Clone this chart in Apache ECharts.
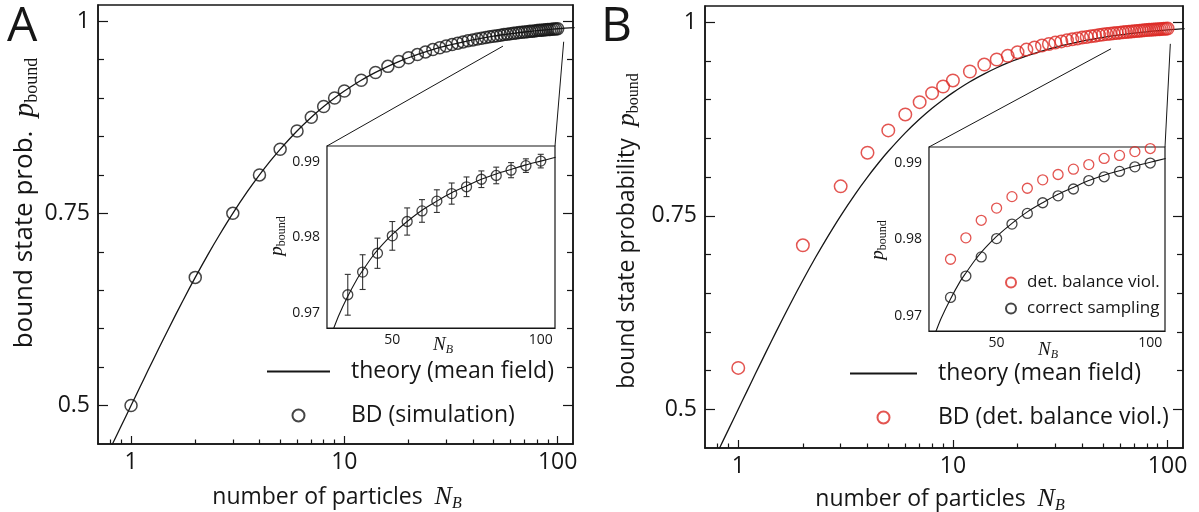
<!DOCTYPE html>
<html>
<head>
<meta charset="utf-8">
<script src="https://cdn.jsdelivr.net/npm/echarts@6/dist/echarts.min.js"></script>
<style>
html,body{margin:0;padding:0;background:#fff;}
#chart{width:1199px;height:512px;}
</style>
</head>
<body>
<div id="chart"></div>
<script>
// ---------------- data ----------------
const theoryN = [0.8,0.85,0.9,1,1.1,1.2,1.35,1.5,1.75,2,2.3,2.6,3,3.5,4,4.5,5,6,7,8,9,10,12,14,16,18,20,25,30,35,40,50,60,70,80,90,100,120];
const theoryP = [0.4444,0.4595,0.4737,0.5,0.5238,0.5455,0.5745,0.6,0.6364,0.6667,0.697,0.7222,0.75,0.7778,0.8,0.8182,0.8333,0.8571,0.875,0.8889,0.9,0.9091,0.9231,0.9333,0.9412,0.9474,0.9524,0.9615,0.9677,0.9722,0.9756,0.9804,0.9836,0.9859,0.9877,0.989,0.9901,0.9917];

const simN = [1,2,3,4,5,6,7,8,9,10,12,14,16,18,20,22,24,26,28,30,32,34,36,38,40,42,44,46,48,50,52,54,56,58,60,62,64,66,68,70,72,74,76,78,80,82,84,86,88,90,92,94,96,98,100];
const simA = [0.5,0.6667,0.75,0.8,0.8333,0.8571,0.875,0.8889,0.9,0.9091,0.9231,0.9333,0.9412,0.9474,0.9524,0.9565,0.96,0.963,0.9655,0.9677,0.9697,0.9714,0.973,0.9744,0.9756,0.9767,0.9778,0.9787,0.9796,0.9804,0.9811,0.9818,0.9825,0.9831,0.9836,0.9841,0.9846,0.9851,0.9855,0.9859,0.9863,0.9867,0.987,0.9873,0.9877,0.988,0.9882,0.9885,0.9888,0.989,0.9892,0.9895,0.9897,0.9899,0.9901];
const simBviol = [0.5535,0.7119,0.788,0.8315,0.8603,0.8809,0.8968,0.9084,0.917,0.9248,0.9364,0.9454,0.9519,0.9566,0.9613,0.9647,0.9675,0.9699,0.9719,0.9737,0.9753,0.9767,0.978,0.9791,0.9802,0.981,0.9819,0.9826,0.9834,0.9841,0.9847,0.9852,0.9857,0.9862,0.9866,0.9871,0.9875,0.9878,0.9881,0.9885,0.9888,0.9891,0.9893,0.9896,0.9899,0.9902,0.9903,0.9906,0.9908,0.991,0.9911,0.9914,0.9915,0.9917,0.9919];

const insetTheoryN = [29,30,32,35,38,40,43,45,48,50,55,60,65,70,75,80,85,90,95,100,105];
const insetTheoryP = [0.9667,0.9677,0.9697,0.9722,0.9744,0.9756,0.9773,0.9783,0.9796,0.9804,0.9821,0.9836,0.9848,0.9859,0.9868,0.9877,0.9884,0.989,0.9896,0.9901,0.9906];

const insetN = [35,40,45,50,55,60,65,70,75,80,85,90,95,100];
const insetA = [0.9724,0.9754,0.9779,0.9802,0.9821,0.9835,0.9848,0.9858,0.9867,0.9877,0.9882,0.9889,0.9895,0.9901];
const insetAerr = [0.0027,0.0023,0.002,0.0019,0.0018,0.0015,0.0015,0.0014,0.0013,0.0011,0.0011,0.001,0.0009,0.0009];
const insetBviol = [0.9774,0.9802,0.9825,0.9841,0.9856,0.9867,0.9878,0.9885,0.9892,0.9898,0.9906,0.991,0.9915,0.9919];
const insetBcorrect = [0.9724,0.9752,0.9777,0.9801,0.982,0.9834,0.9848,0.9857,0.9866,0.9877,0.9882,0.9889,0.9895,0.99];

// tick labels / tick positions
const xMajor = [1,10,100];
const xMinor = [0.8,0.9,2,3,4,5,6,7,8,9,20,30,40,50,60,70,80,90];
const yMajor = [0.5,0.75,1];
const yMinor = [0.55,0.6,0.65,0.7,0.8,0.85,0.9,0.95];
const insetXLabels = [50,100];
const insetXTicks = [30,40,50,60,70,80,90,100];
const insetYLabels = [0.97,0.98,0.99];
const insetYTicks = [0.97,0.975,0.98,0.985,0.99];

// zoom-indicator endpoints in main-panel data coordinates
const zoomLinkA = [[55.4,0.9675],[106.7,0.9732]];
const zoomLinkB = [[54.5,0.9657],[103,0.9721]];

// ---------------- chart ----------------
const FONT = "'Open Sans','DejaVu Sans',sans-serif";
const SERIF = "'Liberation Serif','DejaVu Serif',serif";
const INK = '#161616';
const RED = '#dc2a26';
const X_RANGE = [0.7,118];
const Y_RANGE = [0.45,1.021];
const IX_RANGE = [28,104.8];
const IY_RANGE = [0.968,0.9921];

const zip = (a,b) => a.map((v,i)=>[v,b[i]]);

function logX(grid, major){
  return {
    gridIndex:grid, type:'log', logBase:10, min:X_RANGE[0], max:X_RANGE[1], position:'bottom',
    axisLine:{show:major, onZero:false, lineStyle:{color:INK,width:1.5}},
    axisTick:{show:true, inside:true, length: major?8:4.5, customValues: major?xMajor:xMinor, lineStyle:{color:INK,width:1.2}},
    axisLabel:{show:major, customValues:xMajor, fontSize:23, fontFamily:FONT, color:INK, margin:7},
    splitLine:{show:false}, minorTick:{show:false}, minorSplitLine:{show:false}
  };
}
function mainY(grid, side, major){
  return {
    gridIndex:grid, type:'value', min:Y_RANGE[0], max:Y_RANGE[1], position:side,
    axisLine:{show:major, onZero:false, lineStyle:{color:INK,width:1.5}},
    axisTick:{show:true, inside:true, length: major?10:6, customValues: major?yMajor:yMinor, lineStyle:{color:INK,width:1.2}},
    axisLabel:{show: major && side==='left', customValues:yMajor, fontSize:23, fontFamily:FONT, color:INK, margin:8},
    splitLine:{show:false}
  };
}
function insetX(grid){
  return {
    gridIndex:grid, type:'value', min:IX_RANGE[0], max:IX_RANGE[1], position:'bottom',
    axisLine:{show:true, onZero:false, lineStyle:{color:INK,width:1.2}},
    axisTick:{show:true, inside:true, length:5, customValues:insetXTicks, lineStyle:{color:INK,width:1}},
    axisLabel:{show:true, customValues:insetXLabels, fontSize:14, fontFamily:FONT, color:INK, margin:5},
    splitLine:{show:false}
  };
}
function insetY(grid){
  return {
    gridIndex:grid, type:'value', min:IY_RANGE[0], max:IY_RANGE[1], position:'left',
    axisLine:{show:true, onZero:false, lineStyle:{color:INK,width:1.2}},
    axisTick:{show:true, inside:true, length:5, customValues:insetYTicks, lineStyle:{color:INK,width:1}},
    axisLabel:{show:true, customValues:insetYLabels, fontSize:14, fontFamily:FONT, color:INK, margin:7},
    splitLine:{show:false}
  };
}

const richMath = (big, small) => ({
  t:{fontFamily:FONT, fontSize:big, color:INK, lineHeight:big+6},
  m:{fontFamily:SERIF, fontStyle:'italic', fontSize:big+3, color:INK, lineHeight:big+6},
  s:{fontFamily:SERIF, fontSize:small, color:INK, verticalAlign:'bottom', lineHeight:small+2},
  si:{fontFamily:SERIF, fontStyle:'italic', fontSize:small, color:INK, verticalAlign:'bottom', lineHeight:small+2}
});

function textEl(id, x, y, text, rich, rot){
  return {type:'text', id:id, x:x, y:y, rotation: rot||0, z:100,
    style:{text:text, rich:rich, align:'center', verticalAlign:'middle', fill:INK}};
}

const lineStyle = {color:INK, width:1.3};
const hollow = (c,w) => ({color:'rgba(0,0,0,0)', borderColor:c, borderWidth:w||1.3});
const noDot = {color:'rgba(0,0,0,0)', borderColor:'rgba(0,0,0,0)'};

const option = {
  animation:false,
  backgroundColor:'#fff',
  grid:[
    {left:98, top:5, width:475, height:439, show:true, borderColor:INK, borderWidth:1.5, backgroundColor:'transparent'},
    {left:705, top:6, width:478, height:442, show:true, borderColor:INK, borderWidth:1.5, backgroundColor:'transparent'},
    {left:327, top:146, width:228, height:182, show:true, borderColor:INK, borderWidth:1.2, backgroundColor:'#fff', z:5},
    {left:929, top:147, width:236, height:184, show:true, borderColor:INK, borderWidth:1.2, backgroundColor:'#fff', z:5}
  ],
  xAxis:[ logX(0,true), logX(0,false), logX(1,true), logX(1,false), insetX(2), insetX(3) ],
  yAxis:[
    mainY(0,'left',true), mainY(0,'left',false), mainY(0,'right',true), mainY(0,'right',false),
    mainY(1,'left',true), mainY(1,'left',false), mainY(1,'right',true), mainY(1,'right',false),
    insetY(2), insetY(3)
  ],
  legend:[
    {data:['theory (mean field)','BD (simulation)'], left:261, top:355, orient:'vertical', z:20,
     itemWidth:63, itemHeight:12, itemGap:21, selectedMode:false,
     textStyle:{fontSize:23, fontFamily:FONT, color:INK, padding:[0,0,0,16]}},
    {data:['theory (mean field)','BD (det. balance viol.)'], left:844, top:357, orient:'vertical', z:20,
     itemWidth:67, itemHeight:12, itemGap:21, selectedMode:false,
     textStyle:{fontSize:23, fontFamily:FONT, color:INK, padding:[0,0,0,16]}},
    {data:['det. balance viol.','correct sampling'], left:1000, top:269, orient:'vertical', z:20,
     itemWidth:10, itemHeight:10, itemGap:9, selectedMode:false,
     textStyle:{fontSize:17, fontFamily:FONT, color:INK, padding:[0,0,0,6]}}
  ],
  series:[
    {name:'theory (mean field)', type:'line', xAxisIndex:0, yAxisIndex:0, data:zip(theoryN,theoryP),
     symbol:'none', smooth:0.3, lineStyle:lineStyle, itemStyle:noDot, z:2},
    {name:'BD (simulation)', type:'scatter', xAxisIndex:0, yAxisIndex:0, data:zip(simN,simA),
     symbol:'circle', symbolSize:12, itemStyle:hollow(INK,1.5), z:3},
    {name:'theory (mean field)', type:'line', xAxisIndex:2, yAxisIndex:4, data:zip(theoryN,theoryP),
     symbol:'none', smooth:0.3, lineStyle:lineStyle, itemStyle:noDot, z:2},
    {name:'BD (det. balance viol.)', type:'scatter', xAxisIndex:2, yAxisIndex:4, data:zip(simN,simBviol),
     symbol:'circle', symbolSize:12.5, itemStyle:hollow(RED,1.5), z:3},
    // inset A
    {name:'insetTheoryA', type:'line', xAxisIndex:4, yAxisIndex:8, data:zip(insetTheoryN,insetTheoryP),
     symbol:'none', smooth:0.3, lineStyle:{color:INK,width:1.1}, z:6},
    {name:'insetErrA', type:'custom', xAxisIndex:4, yAxisIndex:8,
     data: insetN.map((n,i)=>[n, insetA[i]-insetAerr[i], insetA[i]+insetAerr[i]]),
     encode:{x:0, y:[1,2]}, z:6,
     renderItem:function(params, api){
       const x = api.value(0);
       const lo = api.coord([x, api.value(1)]);
       const hi = api.coord([x, api.value(2)]);
       const c = 3;
       const st = {stroke:'#333', lineWidth:1.1};
       return {type:'group', children:[
         {type:'line', shape:{x1:lo[0],y1:lo[1],x2:hi[0],y2:hi[1]}, style:st},
         {type:'line', shape:{x1:lo[0]-c,y1:lo[1],x2:lo[0]+c,y2:lo[1]}, style:st},
         {type:'line', shape:{x1:hi[0]-c,y1:hi[1],x2:hi[0]+c,y2:hi[1]}, style:st}
       ]};
     }},
    {name:'insetSimA', type:'scatter', xAxisIndex:4, yAxisIndex:8, data:zip(insetN,insetA),
     symbol:'circle', symbolSize:10, itemStyle:hollow(INK), z:7},
    // inset B
    {name:'insetTheoryB', type:'line', xAxisIndex:5, yAxisIndex:9, data:zip(insetTheoryN,insetTheoryP),
     symbol:'none', smooth:0.3, lineStyle:{color:INK,width:1.1}, z:6},
    {name:'det. balance viol.', type:'scatter', xAxisIndex:5, yAxisIndex:9, data:zip(insetN,insetBviol),
     symbol:'circle', symbolSize:10, itemStyle:hollow(RED), z:7},
    {name:'correct sampling', type:'scatter', xAxisIndex:5, yAxisIndex:9, data:zip(insetN,insetBcorrect),
     symbol:'circle', symbolSize:10, itemStyle:hollow(INK), z:7}
  ],
  graphic:{elements:[
    {type:'text', id:'lblA', x:7, y:27, z:100, style:{text:'A', font:"48px "+FONT, fill:INK, align:'left', verticalAlign:'middle'}},
    {type:'text', id:'lblB', x:601, y:27, z:100, style:{text:'B', font:"48px "+FONT, fill:INK, align:'left', verticalAlign:'middle'}},
    textEl('xtA', 337, 497, '{t|number of particles  }{m|N}{si|B}', richMath(23,16)),
    textEl('xtB', 940, 499, '{t|number of particles  }{m|N}{si|B}', richMath(23,16)),
    textEl('ytA', 25, 203, '{t|bound state prob.  }{m|p}{s|bound}', richMath(26,18), Math.PI/2),
    textEl('ytB', 627, 231, '{t|bound state probability  }{m|p}{s|bound}', richMath(23,16), Math.PI/2),
    textEl('ixA', 443, 345, '{m|N}{si|B}', richMath(16,12)),
    textEl('ixB', 1048, 350, '{m|N}{si|B}', richMath(16,12)),
    textEl('iyA', 277, 236, '{m|p}{s|bound}', richMath(16,12), Math.PI/2),
    textEl('iyB', 878, 240, '{m|p}{s|bound}', richMath(16,12), Math.PI/2)
  ]}
};

const chart = echarts.init(document.getElementById('chart'), null, {renderer:'canvas'});
chart.setOption(option);

// zoom indicator lines: from marked region in main panel to inset top corners
function links(mainFinder, insetFinder, pts, prefix){
  const tl = chart.convertToPixel(insetFinder, [IX_RANGE[0], IY_RANGE[1]]);
  const tr = chart.convertToPixel(insetFinder, [IX_RANGE[1], IY_RANGE[1]]);
  const a = chart.convertToPixel(mainFinder, pts[0]);
  const b = chart.convertToPixel(mainFinder, pts[1]);
  const st = {stroke:INK, lineWidth:1};
  return [
    {type:'line', id:prefix+'1', z:50, shape:{x1:tl[0],y1:tl[1],x2:a[0],y2:a[1]}, style:st},
    {type:'line', id:prefix+'2', z:50, shape:{x1:tr[0],y1:tr[1],x2:b[0],y2:b[1]}, style:st}
  ];
}
const extra = [].concat(
  links({xAxisIndex:0,yAxisIndex:0},{xAxisIndex:4,yAxisIndex:8}, zoomLinkA, 'lkA'),
  links({xAxisIndex:2,yAxisIndex:4},{xAxisIndex:5,yAxisIndex:9}, zoomLinkB, 'lkB')
);
chart.setOption({graphic:{elements: option.graphic.elements.concat(extra)}});
</script>
</body>
</html>
